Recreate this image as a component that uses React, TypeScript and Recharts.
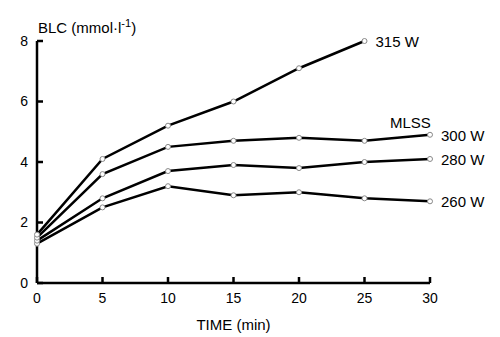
import { LineChart, Line, XAxis, YAxis, LabelList } from "recharts";

const times = [0, 5, 10, 15, 20, 25, 30];
const w260 = [1.3, 2.5, 3.2, 2.9, 3.0, 2.8, 2.7];
const w280 = [1.4, 2.8, 3.7, 3.9, 3.8, 4.0, 4.1];
const w300 = [1.5, 3.6, 4.5, 4.7, 4.8, 4.7, 4.9];
const w315 = [1.6, 4.1, 5.2, 6.0, 7.1, 8.0];
const xTicks = [0, 5, 10, 15, 20, 25, 30];
const yTicks = [0, 2, 4, 6, 8];

const data = times.map((t, i) => ({
  t,
  w260: w260[i],
  w280: w280[i],
  w300: w300[i],
  w315: w315[i],
}));

const font = "'Liberation Sans', Arial, sans-serif";

function endLabel(text: string, lastIndex: number, extra?: string) {
  return (props: any) => {
    const { x, y, index } = props;
    if (index !== lastIndex) return null;
    return (
      <g>
        {extra && (
          <text x={x - 40} y={y - 7} fontSize={15} fontFamily={font} fill="#000">
            {extra}
          </text>
        )}
        <text x={x + 11} y={y + 6} fontSize={15} fontFamily={font} fill="#000">
          {text}
        </text>
      </g>
    );
  };
}

const lineProps = {
  type: "linear" as const,
  stroke: "#000",
  strokeWidth: 2.5,
  dot: { r: 2.5, stroke: "#888", strokeWidth: 1, fill: "#fff" },
  isAnimationActive: false,
};

export default function App() {
  return (
    <div style={{ position: "absolute", left: 0, top: 0, background: "#fff" }}>
      <LineChart
        width={500}
        height={337}
        data={data}
        margin={{ top: 41, right: 70, bottom: 0, left: 0 }}
      >
        <XAxis
          dataKey="t"
          type="number"
          domain={[0, 30]}
          ticks={xTicks}
          height={54}
          tickSize={-6}
          tickMargin={16}
          axisLine={{ stroke: "#000", strokeWidth: 2.5 }}
          tickLine={{ stroke: "#000", strokeWidth: 2.5 }}
          tick={{ fill: "#000", fontSize: 14, fontFamily: font }}
          label={{
            content: (p: any) => {
              const vb = p.viewBox;
              return (
                <text
                  x={vb.x + vb.width / 2}
                  y={330}
                  textAnchor="middle"
                  fontSize={15}
                  fontFamily={font}
                  fill="#000"
                >
                  TIME (min)
                </text>
              );
            },
          }}
        />
        <YAxis
          type="number"
          domain={[0, 8]}
          ticks={yTicks}
          width={37}
          tickSize={-6}
          tickMargin={15}
          axisLine={{ stroke: "#000", strokeWidth: 2.5 }}
          tickLine={{ stroke: "#000", strokeWidth: 2.5 }}
          tick={{ fill: "#000", fontSize: 14, fontFamily: font }}
          label={{
            content: () => (
              <text x={38} y={33} fontSize={15} fontFamily={font} fill="#000">
                BLC (mmol·l
                <tspan dy={-6} fontSize={11}>
                  -1
                </tspan>
                <tspan dy={6}>)</tspan>
              </text>
            ),
          }}
        />
        <Line dataKey="w260" {...lineProps}>
          <LabelList dataKey="w260" content={endLabel("260 W", 6)} />
        </Line>
        <Line dataKey="w280" {...lineProps}>
          <LabelList dataKey="w280" content={endLabel("280 W", 6)} />
        </Line>
        <Line dataKey="w300" {...lineProps}>
          <LabelList dataKey="w300" content={endLabel("300 W", 6, "MLSS")} />
        </Line>
        <Line dataKey="w315" {...lineProps}>
          <LabelList dataKey="w315" content={endLabel("315 W", 5)} />
        </Line>
      </LineChart>
    </div>
  );
}
